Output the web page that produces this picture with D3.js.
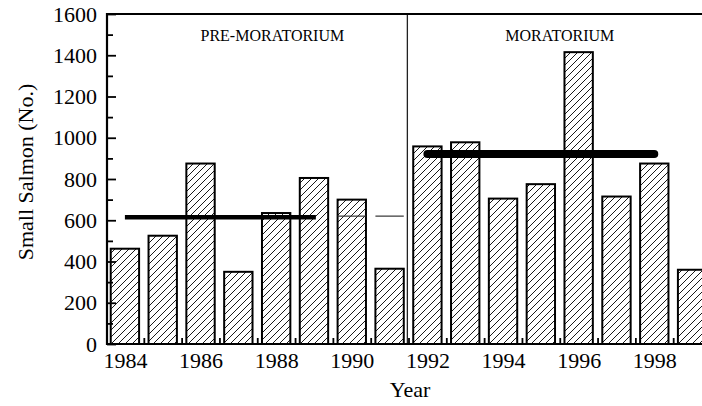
<!DOCTYPE html>
<html>
<head>
<meta charset="utf-8">
<script src="https://cdn.jsdelivr.net/npm/d3@7"></script>
<style>
  html, body { margin: 0; padding: 0; background: #fff; }
  svg { display: block; }
</style>
</head>
<body>
<script>
const years = [1984, 1985, 1986, 1987, 1988, 1989, 1990, 1991, 1992, 1993, 1994, 1995, 1996, 1997, 1998, 1999]
const salmon = [462, 525, 875, 350, 635, 805, 700, 365, 958, 978, 705, 775, 1415, 715, 875, 360]
const yTicks = [0, 200, 400, 600, 800, 1000, 1200, 1400, 1600]
const yMinor = [100, 300, 500, 700, 900, 1100, 1300, 1500]
const xTicks = [1984, 1986, 1988, 1990, 1992, 1994, 1996, 1998]
const xMinor = [1984.5, 1985.5, 1986.5, 1987.5, 1988.5, 1989.5, 1990.5, 1991.5, 1992.5, 1993.5, 1994.5, 1995.5, 1996.5, 1997.5, 1998.5]
// period means: [from, to, value]
const preMean = [1984, 1989.05, 615]
const morMean = [1992, 1998, 921]
const thinMarks = [1987, 1990, 1991]
const thinValue = 620
const divider = 1991.47
const periods = [
  { label: 'PRE-MORATORIUM', at: 1987.9 },
  { label: 'MORATORIUM', at: 1995.5 }
]

const width = 702
const height = 406
const plotLeft = 107
const plotTop = 14
const plotBottom = 344
const font = '"Liberation Serif", "Times New Roman", Times, serif'

const x = d3.scaleLinear().domain([1983.5, 1999.5]).range([106, 711])
const y = d3.scaleLinear().domain([0, 1600]).range([plotBottom, plotTop])
const barW = (x(1) - x(0)) * 0.75

const svg = d3.select('body').append('svg')
  .attr('width', width)
  .attr('height', height)
  .attr('font-family', font)

svg.append('defs').append('pattern')
  .attr('id', 'hatch')
  .attr('patternUnits', 'userSpaceOnUse')
  .attr('width', 7)
  .attr('height', 7)
  .append('path')
  .attr('d', 'M-1,1 l2,-2 M0,7 l7,-7 M6,8 l2,-2')
  .attr('stroke', '#000')
  .attr('stroke-width', 0.9)

// bars
svg.append('g')
  .selectAll('rect')
  .data(years)
  .join('rect')
  .attr('x', (d) => x(d) - barW / 2)
  .attr('y', (d, i) => y(salmon[i]))
  .attr('width', barW)
  .attr('height', (d, i) => plotBottom - y(salmon[i]))
  .attr('fill', 'url(#hatch)')
  .attr('stroke', '#000')
  .attr('stroke-width', 2)

// divider between periods
svg.append('line')
  .attr('x1', x(divider)).attr('x2', x(divider))
  .attr('y1', plotTop).attr('y2', plotBottom)
  .attr('stroke', '#222')
  .attr('stroke-width', 1.3)

// thin mean marks
svg.append('g')
  .selectAll('line')
  .data(thinMarks)
  .join('line')
  .attr('x1', (d) => x(d) - barW / 2)
  .attr('x2', (d) => x(d) + barW / 2)
  .attr('y1', y(thinValue))
  .attr('y2', y(thinValue))
  .attr('stroke', '#333')
  .attr('stroke-width', 1.2)

// period means
svg.append('line')
  .attr('x1', x(preMean[0])).attr('x2', x(preMean[1]))
  .attr('y1', y(preMean[2])).attr('y2', y(preMean[2]))
  .attr('stroke', '#000')
  .attr('stroke-width', 4.5)

svg.append('line')
  .attr('x1', x(morMean[0])).attr('x2', x(morMean[1]))
  .attr('y1', y(morMean[2])).attr('y2', y(morMean[2]))
  .attr('stroke', '#000')
  .attr('stroke-width', 8)
  .attr('stroke-linecap', 'round')

// axes
const yAxis = svg.append('g')
  .attr('transform', `translate(${plotLeft},0)`)
  .call(d3.axisLeft(y).tickValues(yTicks).tickSize(-9).tickPadding(10).tickFormat(d3.format('d')))
yAxis.select('.domain').remove()
yAxis.selectAll('line').attr('stroke-width', 1.8)
yAxis.selectAll('text').attr('font-size', 22).attr('font-family', font).attr('fill', '#000')

svg.append('g')
  .attr('transform', `translate(${plotLeft},0)`)
  .call(d3.axisLeft(y).tickValues(yMinor).tickSize(-6).tickFormat(''))
  .call((g) => g.select('.domain').remove())
  .selectAll('line').attr('stroke-width', 1.8)

const xAxis = svg.append('g')
  .attr('transform', `translate(0,${plotBottom})`)
  .call(d3.axisBottom(x).tickValues(xTicks).tickSize(0).tickPadding(8).tickFormat(d3.format('d')))
xAxis.select('.domain').remove()
xAxis.selectAll('text').attr('font-size', 22).attr('font-family', font).attr('fill', '#000')

svg.append('g')
  .attr('transform', `translate(0,${plotBottom})`)
  .call(d3.axisBottom(x).tickValues(xMinor).tickSize(-6).tickFormat(''))
  .call((g) => g.select('.domain').remove())
  .selectAll('line').attr('stroke-width', 1.8)

// frame: left, bottom, top
svg.append('path')
  .attr('d', `M${width},${plotTop}H${plotLeft}V${plotBottom}H${width}`)
  .attr('fill', 'none')
  .attr('stroke', '#000')
  .attr('stroke-width', 2.2)

// period labels
svg.append('g')
  .selectAll('text')
  .data(periods)
  .join('text')
  .attr('x', (d) => x(d.at))
  .attr('y', 41)
  .attr('text-anchor', 'middle')
  .attr('font-size', 16)
  .text((d) => d.label)

svg.append('text')
  .attr('x', 410)
  .attr('y', 397)
  .attr('text-anchor', 'middle')
  .attr('font-size', 22)
  .text('Year')

svg.append('text')
  .attr('transform', 'translate(33,172) rotate(-90)')
  .attr('text-anchor', 'middle')
  .attr('font-size', 22)
  .text('Small Salmon (No.)')
</script>
</body>
</html>
